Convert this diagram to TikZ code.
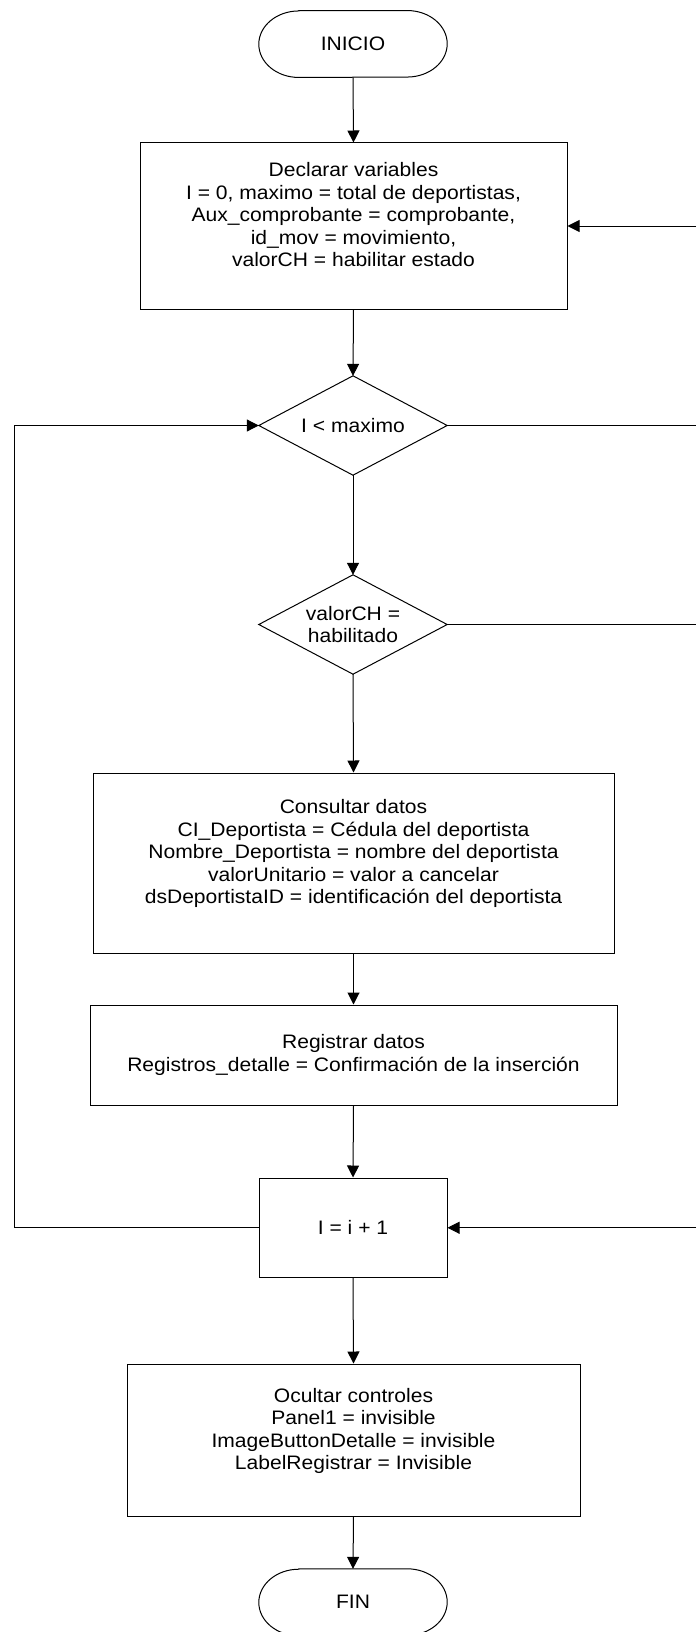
\documentclass[tikz,border=0pt]{standalone}
\usepackage{fontspec}
\setmainfont{Liberation Sans}[FakeStretch=1.08]
\usetikzlibrary{arrows.meta}
\tikzset{
  plainline/.style={line width=1pt, line join=miter},
  conn/.style={line width=1pt, -{Triangle[length=12pt,width=12pt]}},
  procbox/.style={draw, line width=1pt, inner sep=0pt, align=center},
  shapebase/.style={inner sep=0pt, align=center, minimum width=188pt},
}
\newcommand{\terminalpath}[1]{%
  \draw[plainline] ([xshift=40pt]#1.north west) -- ([xshift=-40pt]#1.north east)
    arc[start angle=90,end angle=-90,x radius=40pt,y radius=33.25pt]
    -- ([xshift=40pt]#1.south west)
    arc[start angle=270,end angle=90,x radius=40pt,y radius=33.25pt] -- cycle;}
\newcommand{\diamondpath}[1]{%
  \draw[plainline] (#1.north) -- (#1.east) -- (#1.south) -- (#1.west) -- cycle;}
\begin{document}
\begin{tikzpicture}[x=1pt, y=-1pt, font=\fontsize{19.5}{22.5}\selectfont]
\useasboundingbox (0,0) rectangle (696,1632);
\fill[white] (0,0) rectangle (696,1632);

% nodes
\node[shapebase, minimum height=66.5pt] (ini) at (353,44) {INICIO};
\terminalpath{ini}

\node[procbox, minimum width=427pt, minimum height=166pt] (b1) at (353.5,226)
  {Declarar variables\\ I = 0, maximo = total de deportistas,\\ Aux\_comprobante = comprobante,\\ id\_mov = movimiento,\\ valorCH = habilitar estado\\ \mbox{}};

\node[shapebase, minimum height=99pt] (d1) at (353,425.5) {I < maximo};
\diamondpath{d1}

\node[shapebase, minimum height=99pt] (d2) at (353,624.5) {valorCH =\\ habilitado};
\diamondpath{d2}

\node[procbox, minimum width=521pt, minimum height=180pt] (b2) at (353.5,863)
  {Consultar datos\\ CI\_Deportista = Cédula del deportista\\ Nombre\_Deportista = nombre del deportista\\ valorUnitario = valor a cancelar\\ dsDeportistaID = identificación del deportista\\ \mbox{}};

\node[procbox, minimum width=527pt, minimum height=100pt] (b3) at (353.5,1055)
  {Registrar datos\\ Registros\_detalle = Confirmación de la inserción};

\node[procbox, minimum width=188pt, minimum height=99.5pt] (b4) at (353,1227.75) {I = i + 1};

\node[procbox, minimum width=453pt, minimum height=152pt] (b5) at (353.5,1440)
  {Ocultar controles\\ Panel1 = invisible\\ ImageButtonDetalle = invisible\\ LabelRegistrar = Invisible\\ \mbox{}};

\node[shapebase, minimum height=66.5pt] (fin) at (353,1602.25) {FIN};
\terminalpath{fin}

% free ends
\coordinate (rb1) at (696,226);
\coordinate (rd1) at (696,425.5);
\coordinate (rd2) at (696,624.5);
\coordinate (rb4) at (696,1227.75);
\coordinate (lt) at (14,425.5);
\coordinate (lb) at (14,1227.75);

% main flow
\draw[conn] (ini.south) -- (b1.north);
\draw[conn] (b1.south) -- (d1.north);
\draw[conn] (d1.south) -- (d2.north);
\draw[conn] (d2.south) -- (b2.north);
\draw[conn] (b2.south) -- (b3.north);
\draw[conn] (b3.south) -- (b4.north);
\draw[conn] (b4.south) -- (b5.north);
\draw[conn] (b5.south) -- (fin.north);

% side connectors
\draw[conn] (rb1) -- (b1.east);
\draw[plainline] (d1.east) -- (rd1);
\draw[plainline] (d2.east) -- (rd2);
\draw[conn] (rb4) -- (b4.east);
\draw[conn] (b4.west) -- (lb) -- (lt) -- (d1.west);
\end{tikzpicture}
\end{document}
